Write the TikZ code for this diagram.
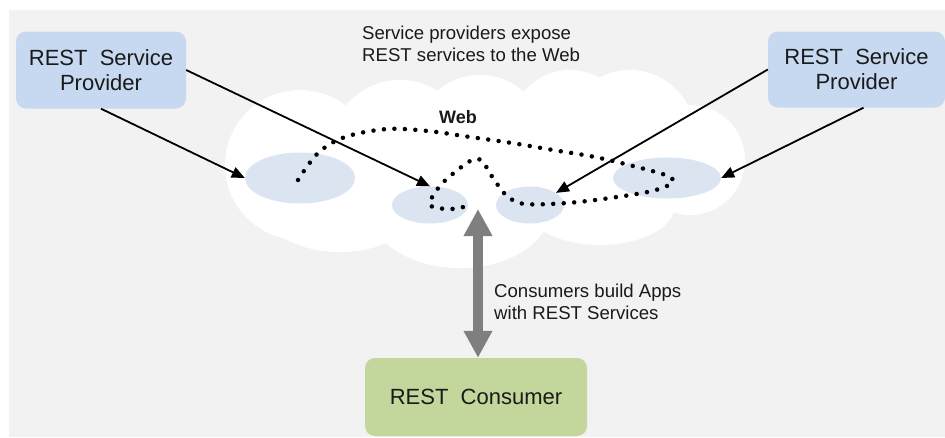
\documentclass[tikz,border=0pt]{standalone}
\usepackage{fontspec}
\setmainfont{Liberation Sans}
\usetikzlibrary{arrows.meta,shapes.geometric,calc}
\definecolor{bggray}{HTML}{F2F2F2}
\definecolor{provblue}{HTML}{C6D9F1}
\definecolor{consgreen}{HTML}{C3D69B}
\definecolor{svcblue}{HTML}{DBE5F1}
\definecolor{arrgray}{HTML}{7F7F7F}
\definecolor{txt}{HTML}{1A1A1A}
\begin{document}
\begin{tikzpicture}[x=1pt,y=-1pt,
  box/.style={rounded corners=10pt, inner sep=0pt, align=center, text=txt,
    font=\fontsize{22}{25}\selectfont},
  svc/.style={ellipse, fill=svcblue, inner sep=0pt},
  feed/.style={draw=black, line width=1.8pt, -{Triangle[length=13pt,width=11pt]}},
  note/.style={font=\fontsize{18.6}{21.5}\selectfont, align=left, inner sep=0pt, text=txt},
  webpath/.style={line width=4.5pt, line cap=round, dash pattern=on 0pt off 10.5pt},
  bigarrow/.style={line width=10pt, draw=arrgray,
    {Triangle[length=27pt,width=27pt]}-{Triangle[length=27pt,width=27pt]}}
]
\useasboundingbox (0,0) rectangle (945,437);
\fill[bggray] (9,10) rectangle (945,437);
% cloud
\fill[white] (300,165) circle [radius=75pt];
\fill[white] (400,150) circle [radius=70pt];
\fill[white] (480,140) circle [radius=65pt];
\fill[white] (570,130) circle [radius=60pt];
\fill[white] (630,135) circle [radius=65pt];
\fill[white] (690,160) circle [radius=55pt];
\fill[white] (460,210) ellipse [x radius=90pt, y radius=58pt];
\fill[white] (600,205) ellipse [x radius=75pt, y radius=40pt];
\fill[white] (340,210) ellipse [x radius=75pt, y radius=42pt];
% boxes
\node[box, fill=provblue, minimum width=170pt, minimum height=77pt] (lp) at (101,70) {REST\ \ Service\\Provider};
\node[box, fill=provblue, minimum width=177pt, minimum height=76pt] (rp) at (856.5,69.5) {REST\ \ Service\\Provider};
\node[box, fill=consgreen, minimum width=222pt, minimum height=78pt] (cons) at (476,397) {REST\ \ Consumer};
% services
\node[svc, minimum width=110pt, minimum height=51pt] (e1) at (300,178) {};
\node[svc, minimum width=76pt, minimum height=37pt] (e2) at (430,205) {};
\node[svc, minimum width=68pt, minimum height=37pt] (e3) at (530,205) {};
\node[svc, minimum width=108pt, minimum height=41pt] (e4) at (667,178) {};
% web path
\draw[webpath] plot[smooth, tension=0.55] coordinates {(298,180) (318,153) (345,137) (387,129) (428,131) (470,137) (512,143) (553,150) (595,157) (637,167) (668,176) (672,183) (652,191) (610,198) (567,203) (525,204) (507,196) (493,178) (482,161) (472,160) (455,172) (439,187) (430,205) (451,209) (471,205)};
% texts
\node[note, anchor=north west] (t1) at (362,26) {Service providers expose\\REST services to the Web};
\node[note, anchor=north west] (t2) at (494,284) {Consumers build Apps\\with REST Services};
\node[inner sep=0pt, text=txt, font=\bfseries\fontsize{18}{21}\selectfont] (web) at (458,117) {Web};
% arrows
\draw[feed] (lp.south) -- (e1.west);
\draw[feed] (lp.east) -- (e2.north);
\draw[feed] (rp.west) -- (e3.25);
\draw[feed] ([xshift=7pt]rp.south) -- (e4.east);
\coordinate (gtop) at (478,209);
\draw[bigarrow] (gtop) -- (gtop |- cons.north);
\end{tikzpicture}
\end{document}
